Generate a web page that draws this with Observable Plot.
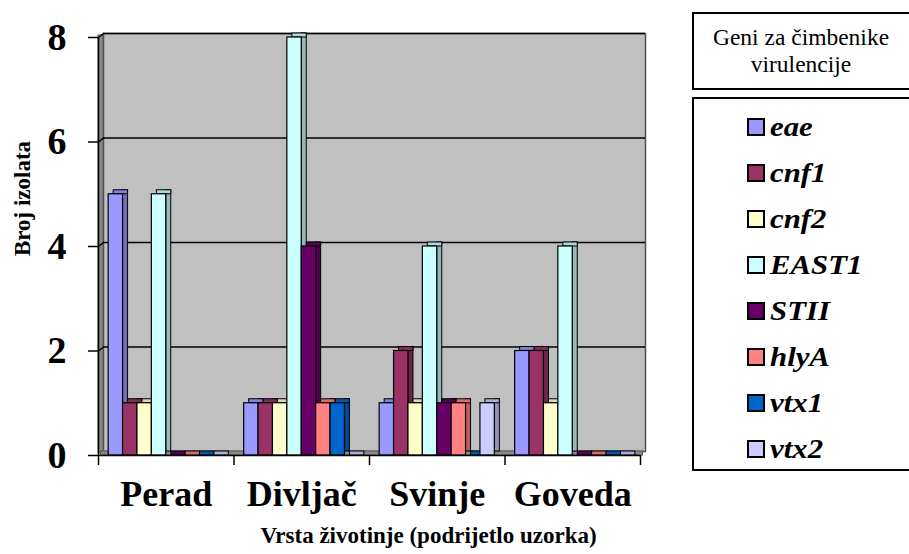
<!DOCTYPE html>
<html><head><meta charset="utf-8">
<script src="https://cdn.jsdelivr.net/npm/d3@7"></script>
<script src="https://cdn.jsdelivr.net/npm/@observablehq/plot@0.6"></script>
<style>
body{margin:0;background:#fff;font-family:"Liberation Serif","Times New Roman",Tinos,"DejaVu Serif",serif;}
#wrap{position:relative;width:909px;height:554px;overflow:hidden;}
.box{position:absolute;border:2px solid #000;background:#fff;box-sizing:border-box;}
#ltitle{left:692px;top:12px;width:230px;height:78px;font-size:23.5px;line-height:27px;padding-top:10px;}
#ltitle div{width:214px;text-align:center;}
#litems{left:692px;top:97px;width:230px;height:374px;}
.item{position:absolute;left:53px;height:30px;display:flex;align-items:center;}
.sw{width:14px;height:14px;border:2px solid #000;margin-right:5px;}
.lab{font-weight:bold;font-style:italic;font-size:28px;transform:scaleX(1.1);transform-origin:left center;}
</style></head><body><div id="wrap"></div>
<script>
const groups = ["Perad", "Divljač", "Svinje", "Goveda"];
const genes = ["eae", "cnf1", "cnf2", "EAST1", "STII", "hlyA", "vtx1", "vtx2"];
const colors = ["#9999FF", "#993366", "#FFFFCC", "#CCFFFF", "#660066", "#FF8080", "#0066CC", "#CCCCFF"];
const eae   = [5, 1, 1, 2];
const cnf1  = [1, 1, 2, 2];
const cnf2  = [1, 1, 1, 1];
const EAST1 = [5, 8, 4, 4];
const STII  = [0, 4, 1, 0];
const hlyA  = [0, 1, 1, 0];
const vtx1  = [0, 1, 0, 0];
const vtx2  = [0, 0, 1, 0];
const yTicks = [0, 2, 4, 6, 8];
const yTitle = "Broj izolata";
const xTitle = "Vrsta životinje (podrijetlo uzorka)";
const legendTitle = ["Geni za čimbenike", "virulencije"];

const series = [eae, cnf1, cnf2, EAST1, STII, hlyA, vtx1, vtx2];
const pad = 0.075, bw = (1 - 2 * pad) / genes.length;
const rows = [];
groups.forEach((g, gi) => genes.forEach((gene, k) => {
  const x1 = gi + pad + k * bw;
  rows.push({group: g, gene, value: series[k][gi], x1, x2: x1 + bw,
    front: colors[k],
    side: d3.rgb(colors[k]).darker(0.9).formatHex(),
    top: d3.rgb(colors[k]).darker(0.45).formatHex()});
}));

const seg = {draw(ctx, l) { ctx.moveTo(0, 0); ctx.lineTo(0, -l); }};
const font = "'Liberation Serif', 'Times New Roman', Tinos, 'DejaVu Serif', serif";

const chart = Plot.plot({
  width: 909, height: 554,
  marginLeft: 98, marginRight: 269, marginTop: 37, marginBottom: 99,
  style: {fontFamily: font, background: "transparent", overflow: "visible"},
  x: {domain: [0, groups.length], axis: null},
  y: {domain: [0, 8], axis: null},
  color: {type: "identity"},
  marks: [
    Plot.frame({fill: "#c0c0c0", stroke: "#505050", strokeWidth: 1.5, dx: 5, dy: -4}),
    Plot.rect([0], {x1: 0, x2: 0, y1: 0, y2: 8, insetRight: -5, dy: -2, fill: "#8a8a8a", stroke: "#555"}),
    Plot.rect([0], {x1: 0, x2: groups.length, y1: 0, y2: 0, insetTop: -4, dx: 2.5, fill: "#8a8a8a", stroke: "#555"}),
    Plot.ruleY(yTicks.filter(d => d > 0), {x1: 0, x2: groups.length, dx: 5, dy: -4, stroke: "#000", strokeWidth: 1.5}),
    Plot.vector(yTicks.filter(d => d > 0), {x: 0, y: d => d, length: 6.4, rotate: 51.3, anchor: "start", shape: seg, stroke: "#000", strokeWidth: 1.5}),
    Plot.rect(rows, {x1: "x2", x2: "x2", y1: 0, y2: "value", insetRight: -5, dy: -4, fill: "side", stroke: "#000", strokeWidth: 1}),
    Plot.rect(rows, {x1: "x1", x2: "x2", y1: "value", y2: "value", insetTop: -4, dx: 5, fill: "top", stroke: "#000", strokeWidth: 1}),
    Plot.rect(rows, {x1: "x1", x2: "x2", y1: 0, y2: "value", fill: "front", stroke: "#000", strokeWidth: 1.2}),
    Plot.ruleX([0], {y1: 0, y2: 8, stroke: "#000", strokeWidth: 1.5}),
    Plot.ruleY([0], {x1: 0, x2: groups.length, stroke: "#000", strokeWidth: 1.5}),
    Plot.ruleY(yTicks, {x1: 0, x2: 0, insetLeft: -10, stroke: "#000", strokeWidth: 1.5}),
    Plot.ruleX(d3.range(groups.length + 1), {y1: 0, y2: 0, insetBottom: -10, stroke: "#000", strokeWidth: 1.5}),
    Plot.text(yTicks, {x: 0, y: d => d, text: d => String(d), dx: -32, textAnchor: "end", lineAnchor: "middle", fontSize: 38, fontWeight: "bold", fill: "#000"}),
    Plot.text(groups, {x: (d, i) => i + 0.5, y: 0, dy: 50, textAnchor: "middle", lineAnchor: "bottom", fontSize: 36, fontWeight: "bold", fill: "#000"}),
    Plot.text([xTitle], {frameAnchor: "bottom", dx: 59, dy: 87, textAnchor: "middle", lineAnchor: "bottom", fontSize: 23, fontWeight: "bold", fill: "#000"}),
    Plot.text([yTitle], {frameAnchor: "left", rotate: -90, dx: -76, dy: -48, textAnchor: "middle", lineAnchor: "middle", fontSize: 23, fontWeight: "bold", fill: "#000"})
  ]
});

const wrap = document.getElementById("wrap");
wrap.appendChild(chart);
chart.style.position = "absolute"; chart.style.left = "0"; chart.style.top = "0";
chart.querySelectorAll("text").forEach(t => t.style.fontFamily = font);

const lt = document.createElement("div");
lt.className = "box"; lt.id = "ltitle";
legendTitle.forEach(t => { const d = document.createElement("div"); d.textContent = t; lt.appendChild(d); });
wrap.appendChild(lt);

const li = document.createElement("div");
li.className = "box"; li.id = "litems";
genes.forEach((g, k) => {
  const it = document.createElement("div");
  it.className = "item";
  it.style.top = (30 - 15 + k * 46 - 2) + "px";
  const sw = document.createElement("div"); sw.className = "sw"; sw.style.background = colors[k];
  const lb = document.createElement("span"); lb.className = "lab"; lb.textContent = g;
  it.appendChild(sw); it.appendChild(lb); li.appendChild(it);
});
wrap.appendChild(li);
</script></body></html>
